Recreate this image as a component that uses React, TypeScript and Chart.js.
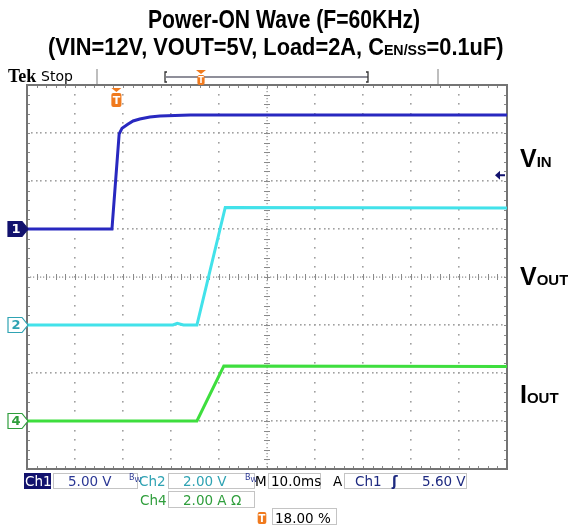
import React, { useEffect, useRef } from "react";
import { Chart, registerables } from "chart.js";
Chart.register(...registerables);

// ---- data (time in ms relative to trigger) ----
const ch1TimeMs = [-18, -0.3, 1.2, 1.8, 3.0, 4.1, 5.5, 7.6, 9.7, 12.8, 16, 82];
const ch1Volts = [0, 0, 9.9, 10.5, 10.9, 11.25, 11.46, 11.67, 11.77, 11.82, 11.87, 11.87];
const ch2TimeMs = [-18, 12.4, 13.3, 14.6, 17.4, 23.3, 82];
const ch2Volts = [0, 0, 0.07, 0, 0, 4.9, 4.88];
const ch4TimeMs = [-18, 17.4, 23.0, 82];
const ch4Amps = [0, 0, 2.29, 2.27];
const timeWindowMs = [-18, 82];
const ch1Range = [-25, 15]; // 5 V/div, ground +1 div
const ch2Range = [-6, 10]; // 2 V/div, ground -1 div
const ch4Range = [-2, 14]; // 2 A/div, ground -3 div
const triggerTimeMs = 0;
const triggerLevelV = 5.6;

const CH1 = "#2828c0";
const CH2 = "#42e2ea";
const CH4 = "#3ede3e";
const NAVY = "#12126e";
const TEAL = "#2fa3b3";
const GREEN = "#2f9e3c";
const ORANGE = "#f07a1e";

function drawChMarker(ctx: CanvasRenderingContext2D, xRight: number, y: number, label: string, fill: string, stroke: string, textColor: string) {
  const w = 20, h = 15, tip = 6;
  const x0 = xRight - w;
  ctx.beginPath();
  ctx.moveTo(x0, y - h / 2);
  ctx.lineTo(xRight - tip, y - h / 2);
  ctx.lineTo(xRight, y);
  ctx.lineTo(xRight - tip, y + h / 2);
  ctx.lineTo(x0, y + h / 2);
  ctx.closePath();
  ctx.fillStyle = fill;
  ctx.fill();
  ctx.lineWidth = 1.2;
  ctx.strokeStyle = stroke;
  ctx.stroke();
  ctx.fillStyle = textColor;
  ctx.font = "bold 13px 'DejaVu Sans'";
  ctx.textAlign = "center";
  ctx.textBaseline = "middle";
  ctx.fillText(label, x0 + (w - tip) / 2 + 1, y + 1);
}

function drawT(ctx: CanvasRenderingContext2D, cx: number, top: number, size: number, withChevron: boolean) {
  ctx.fillStyle = ORANGE;
  if (withChevron) {
    ctx.beginPath();
    ctx.moveTo(cx - 5, top);
    ctx.lineTo(cx + 5, top);
    ctx.lineTo(cx, top + 4);
    ctx.closePath();
    ctx.fill();
    top += 5;
  }
  const w = size * 0.72, h = size;
  ctx.beginPath();
  (ctx as any).roundRect ? (ctx as any).roundRect(cx - w / 2, top, w, h, 2) : ctx.rect(cx - w / 2, top, w, h);
  ctx.fill();
  ctx.fillStyle = "#fff";
  ctx.font = `bold ${Math.round(size * 0.8)}px 'DejaVu Sans'`;
  ctx.textAlign = "center";
  ctx.textBaseline = "middle";
  ctx.fillText("T", cx, top + h / 2 + 1);
}

const scopePlugin = {
  id: "scope",
  beforeDatasetsDraw(chart: any) {
    const ctx: CanvasRenderingContext2D = chart.ctx;
    const a = chart.chartArea;
    const W = a.right - a.left, H = a.bottom - a.top;
    const dx = W / 10, dy = H / 8;
    ctx.save();
    // grid dots
    ctx.fillStyle = "#a0a0a0";
    for (let i = 1; i < 10; i++) {
      if (i === 5) continue;
      const x = Math.round(a.left + i * dx);
      for (let k = 1; k < 40; k++) {
        const y = Math.round(a.top + (k * dy) / 5);
        ctx.fillRect(x - 1, y - 1, 1.6, 1.6);
      }
    }
    for (let j = 1; j < 8; j++) {
      if (j === 4) continue;
      const y = Math.round(a.top + j * dy);
      for (let k = 1; k < 100; k++) {
        const x = Math.round(a.left + (k * dx) / 10);
        ctx.fillRect(x - 1, y - 1, 1.6, 1.6);
      }
    }
    // center lines
    const cx = Math.round(a.left + 5 * dx), cy = Math.round(a.top + 4 * dy);
    ctx.fillStyle = "#8a8a8a";
    for (let k = 0; k < 150; k++) {
      const x = a.left + k * (W / 150);
      ctx.fillRect(Math.round(x), cy - 0.5, 1.2, 1.2);
    }
    for (let k = 0; k < 120; k++) {
      const y = a.top + k * (H / 120);
      ctx.fillRect(cx - 0.5, Math.round(y), 1.2, 1.2);
    }
    ctx.strokeStyle = "#8a8a8a";
    ctx.lineWidth = 1;
    for (let k = 1; k < 50; k++) {
      const x = Math.round(a.left + (k * dx) / 5) + 0.5;
      ctx.beginPath(); ctx.moveTo(x, cy - 3); ctx.lineTo(x, cy + 3); ctx.stroke();
      ctx.beginPath(); ctx.moveTo(x, a.top); ctx.lineTo(x, a.top + 3); ctx.stroke();
      ctx.beginPath(); ctx.moveTo(x, a.bottom - 3); ctx.lineTo(x, a.bottom); ctx.stroke();
    }
    for (let k = 1; k < 40; k++) {
      const y = Math.round(a.top + (k * dy) / 5) + 0.5;
      ctx.beginPath(); ctx.moveTo(cx - 3, y); ctx.lineTo(cx + 3, y); ctx.stroke();
      ctx.beginPath(); ctx.moveTo(a.left, y); ctx.lineTo(a.left + 3, y); ctx.stroke();
      ctx.beginPath(); ctx.moveTo(a.right - 3, y); ctx.lineTo(a.right, y); ctx.stroke();
    }
    // border
    ctx.strokeStyle = "#747474";
    ctx.lineWidth = 2;
    ctx.strokeRect(a.left, a.top, W, H);
    ctx.restore();
  },
  afterDraw(chart: any) {
    const ctx: CanvasRenderingContext2D = chart.ctx;
    const a = chart.chartArea;
    const xs = chart.scales.x;
    ctx.save();
    // channel ground markers
    drawChMarker(ctx, a.left + 1, chart.scales.y1.getPixelForValue(0), "1", NAVY, NAVY, "#fff");
    drawChMarker(ctx, a.left + 1, chart.scales.y2.getPixelForValue(0), "2", "#fff", TEAL, TEAL);
    drawChMarker(ctx, a.left + 1, chart.scales.y4.getPixelForValue(0), "4", "#fff", GREEN, GREEN);
    // trigger position
    drawT(ctx, xs.getPixelForValue(triggerTimeMs) + 3, a.top + 3, 14, true);
    // trigger level arrow
    const ty = chart.scales.y1.getPixelForValue(triggerLevelV);
    ctx.fillStyle = NAVY;
    ctx.beginPath();
    ctx.moveTo(a.right - 12, ty);
    ctx.lineTo(a.right - 7, ty - 4.5);
    ctx.lineTo(a.right - 7, ty + 4.5);
    ctx.closePath();
    ctx.fill();
    ctx.fillRect(a.right - 8, ty - 1, 6, 2);
    // top bar: separators and record bracket
    ctx.strokeStyle = "#a8a8a8";
    ctx.lineWidth = 1.5;
    ctx.beginPath(); ctx.moveTo(97, 69); ctx.lineTo(97, 84); ctx.stroke();
    ctx.beginPath(); ctx.moveTo(438, 69); ctx.lineTo(438, 84); ctx.stroke();
    ctx.strokeStyle = "#6a6a78";
    ctx.lineWidth = 1.3;
    ctx.beginPath(); ctx.moveTo(166, 77); ctx.lineTo(368, 77); ctx.stroke();
    ctx.strokeStyle = "#333";
    ctx.beginPath(); ctx.moveTo(167, 72); ctx.lineTo(165, 72); ctx.lineTo(165, 82); ctx.lineTo(167, 82); ctx.stroke();
    ctx.beginPath(); ctx.moveTo(366, 72); ctx.lineTo(368, 72); ctx.lineTo(368, 82); ctx.lineTo(366, 82); ctx.stroke();
    drawT(ctx, 201, 70, 10, true);
    // bottom T icon
    drawT(ctx, 262, 512, 12, false);
    ctx.restore();
  },
};

const statusFont = "'DejaVu Sans', 'Liberation Sans', sans-serif";
const titleFont = "'Liberation Sans Narrow', 'Arial Narrow', 'Liberation Sans', Arial, sans-serif";

function Txt(props: { x: number; base: number; size: number; color?: string; weight?: string; family?: string; children: any; sx?: number }) {
  const { x, base, size, color = "#000", weight = "normal", family = statusFont, children, sx = 1 } = props;
  return (
    <div
      style={{
        position: "absolute",
        left: x,
        top: base - 0.85 * size,
        fontSize: size,
        lineHeight: `${size}px`,
        color,
        fontWeight: weight as any,
        fontFamily: family,
        whiteSpace: "nowrap",
        transform: sx !== 1 ? `scaleX(${sx})` : undefined,
        transformOrigin: "left center",
      }}
    >
      {children}
    </div>
  );
}

function Box(props: { x: number; y: number; w: number; h: number; bg?: string }) {
  return (
    <div
      style={{
        position: "absolute",
        left: props.x,
        top: props.y,
        width: props.w,
        height: props.h,
        boxSizing: "border-box",
        border: props.bg ? "none" : "1px solid #c4c4c4",
        background: props.bg || "transparent",
      }}
    />
  );
}

export default function App() {
  const ref = useRef<HTMLCanvasElement>(null);
  useEffect(() => {
    if (!ref.current) return;
    const chart = new Chart(ref.current, {
      type: "line",
      data: {
        datasets: [
          { label: "Ch1", data: ch1TimeMs.map((t, i) => ({ x: t, y: ch1Volts[i] })), borderColor: CH1, borderWidth: 3, yAxisID: "y1", pointRadius: 0, tension: 0 },
          { label: "Ch2", data: ch2TimeMs.map((t, i) => ({ x: t, y: ch2Volts[i] })), borderColor: CH2, borderWidth: 3, yAxisID: "y2", pointRadius: 0, tension: 0 },
          { label: "Ch4", data: ch4TimeMs.map((t, i) => ({ x: t, y: ch4Amps[i] })), borderColor: CH4, borderWidth: 3, yAxisID: "y4", pointRadius: 0, tension: 0 },
        ],
      },
      options: {
        animation: false,
        responsive: false,
        events: [],
        layout: { padding: { left: 27, top: 85, right: 61, bottom: 61 } },
        plugins: { legend: { display: false }, title: { display: false }, tooltip: { enabled: false } },
        scales: {
          x: { type: "linear", min: timeWindowMs[0], max: timeWindowMs[1], display: false },
          y1: { type: "linear", min: ch1Range[0], max: ch1Range[1], display: false },
          y2: { type: "linear", min: ch2Range[0], max: ch2Range[1], display: false },
          y4: { type: "linear", min: ch4Range[0], max: ch4Range[1], display: false },
        },
      },
      plugins: [scopePlugin],
    });
    return () => chart.destroy();
  }, []);

  return (
    <div style={{ position: "absolute", left: 0, top: 0, width: 568, height: 530, background: "#fff", overflow: "hidden" }}>
      <canvas ref={ref} width={568} height={530} style={{ position: "absolute", left: 0, top: 0 }} />
      {/* titles */}
      <Txt x={148} base={28} size={25} weight="bold" family={titleFont} sx={0.845}>Power-ON Wave (F=60KHz)</Txt>
      <Txt x={48} base={56} size={23} weight="bold" family={titleFont} sx={0.948}>
        (VIN=12V, VOUT=5V, Load=2A, C<span style={{ fontSize: 15 }}>EN/SS</span>=0.1uF)
      </Txt>
      {/* right labels */}
      <Txt x={520} base={167} size={25} weight="bold" family={titleFont}>V<span style={{ fontSize: 15 }}>IN</span></Txt>
      <Txt x={520} base={285} size={25} weight="bold" family={titleFont}>V<span style={{ fontSize: 15 }}>OUT</span></Txt>
      <Txt x={520} base={403} size={25} weight="bold" family={titleFont}>I<span style={{ fontSize: 15 }}>OUT</span></Txt>
      {/* top bar */}
      <Txt x={8} base={82} size={18} weight="bold" family="'Liberation Serif', serif">Tek</Txt>
      <Txt x={41} base={81} size={14}>Stop</Txt>
      {/* status row 1 */}
      <Box x={24} y={473} w={27} h={16} bg={NAVY} />
      <Txt x={25} base={486} size={13.5} color="#fff">Ch1</Txt>
      <Box x={53} y={473} w={85} h={16} />
      <Txt x={68} base={486} size={13.5} color="#2b3794">5.00 V</Txt>
      <Txt x={129} base={481} size={8} color="#2b3794">B<span style={{ fontSize: 7, position: "relative", top: 2 }}>W</span></Txt>
      <Txt x={139} base={486} size={13.5} color={TEAL}>Ch2</Txt>
      <Box x={168} y={473} w={87} h={16} />
      <Txt x={183} base={486} size={13.5} color={TEAL}>2.00 V</Txt>
      <Txt x={245} base={481} size={8} color="#2b3794">B<span style={{ fontSize: 7, position: "relative", top: 2 }}>W</span></Txt>
      <Txt x={255} base={486} size={13.5}>M</Txt>
      <Box x={268} y={473} w={53} h={16} />
      <Txt x={271} base={486} size={13.5}>10.0ms</Txt>
      <Txt x={333} base={486} size={13.5}>A</Txt>
      <Box x={344} y={473} w={123} h={16} />
      <Txt x={355} base={486} size={13.5} color="#1e2a80">Ch1</Txt>
      <Txt x={392} base={486} size={13.5} color="#1e2a80" weight="bold">ʃ</Txt>
      <Txt x={422} base={486} size={13.5} color="#1e2a80">5.60 V</Txt>
      {/* status row 2 */}
      <Txt x={140} base={505} size={13.5} color={GREEN}>Ch4</Txt>
      <Box x={168} y={491} w={87} h={17} />
      <Txt x={183} base={505} size={13.5} color={GREEN}>2.00 A Ω</Txt>
      {/* status row 3 */}
      <Box x={272} y={508} w={65} h={17} />
      <Txt x={275} base={523} size={13.5}>18.00 %</Txt>
    </div>
  );
}
